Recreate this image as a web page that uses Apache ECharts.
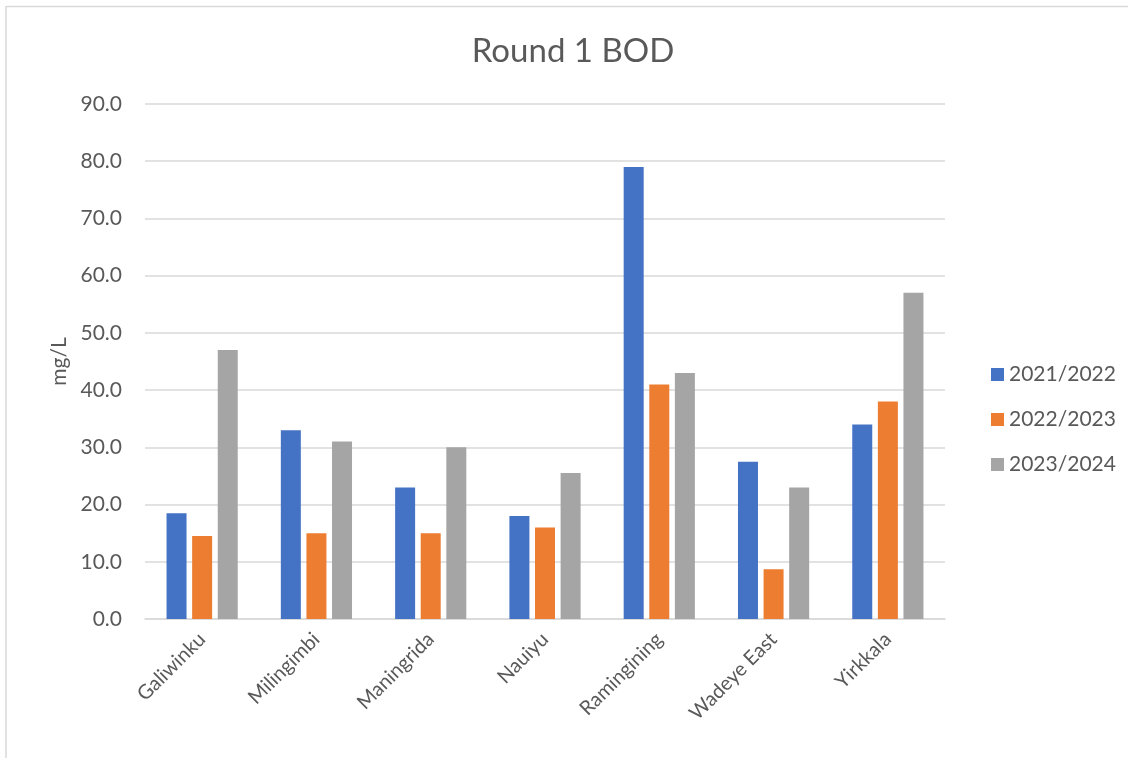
<!DOCTYPE html>
<html>
<head>
<meta charset="utf-8">
<script src="https://cdn.jsdelivr.net/npm/echarts@6/dist/echarts.min.js"></script>
<style>
  html, body { margin: 0; padding: 0; background: #fff; }
  #chart { width: 1128px; height: 758px; }
</style>
</head>
<body>
<div id="chart"></div>
<script>
// sites along the x axis
const sites = ['Galiwinku', 'Milingimbi', 'Maningrida', 'Nauiyu', 'Ramingining', 'Wadeye East', 'Yirkkala']
const seriesNames = ['2021/2022', '2022/2023', '2023/2024']
const bod2122 = [18.5, 33, 23, 18, 79, 27.5, 34]
const bod2223 = [14.5, 15, 15, 16, 41, 8.7, 38]
const bod2324 = [47, 31, 30, 25.5, 43, 23, 57]
const colors = ['#4472c4', '#ed7d31', '#a5a5a5']

const textColor = '#595959'
const fontFamily = 'Lato, "Open Sans", sans-serif'

const chart = echarts.init(document.getElementById('chart'))

const seriesData = [bod2122, bod2223, bod2324]

const option = {
  animation: false,
  textStyle: { fontFamily },
  graphic: [
    { type: 'line', shape: { x1: 6, y1: 6.5, x2: 1128, y2: 6.5 }, style: { stroke: '#d9d9d9', lineWidth: 1.5 } },
    { type: 'line', shape: { x1: 6, y1: 6, x2: 6, y2: 758 }, style: { stroke: '#d9d9d9', lineWidth: 1.5 } }
  ],
  title: {
    text: 'Round 1 BOD',
    left: 568,
    textAlign: 'center',
    top: 30,
    textStyle: { fontSize: 33, fontWeight: 'normal', color: textColor, fontFamily }
  },
  legend: {
    orient: 'vertical',
    left: 986,
    top: 359,
    itemWidth: 13,
    itemHeight: 13,
    itemGap: 24,
    icon: 'rect',
    data: seriesNames,
    textStyle: { fontSize: 21, color: textColor, fontFamily }
  },
  grid: { left: 145, right: 183, top: 104, bottom: 139 },
  xAxis: {
    type: 'category',
    data: sites,
    axisLine: { lineStyle: { color: '#d9d9d9', width: 1.5 } },
    axisTick: { show: false },
    axisLabel: {
      rotate: 45,
      interval: 0,
      fontSize: 20,
      color: textColor,
      margin: 17,
      fontFamily
    }
  },
  yAxis: {
    type: 'value',
    min: 0,
    max: 90,
    interval: 10,
    name: 'mg/L',
    nameLocation: 'middle',
    nameGap: 72,
    nameRotate: 90,
    nameTextStyle: { fontSize: 21, color: textColor, fontFamily },
    axisLine: { show: false },
    axisTick: { show: false },
    axisLabel: {
      fontSize: 21,
      color: textColor,
      margin: 23,
      fontFamily,
      formatter: v => v.toFixed(1)
    },
    splitLine: { lineStyle: { color: '#d9d9d9', width: 1.5 } }
  },
  series: seriesNames.map((name, i) => ({
    name,
    type: 'bar',
    data: seriesData[i],
    barWidth: 20,
    barGap: '28%',
    itemStyle: { color: colors[i] }
  }))
}

chart.setOption(option)
</script>
</body>
</html>
